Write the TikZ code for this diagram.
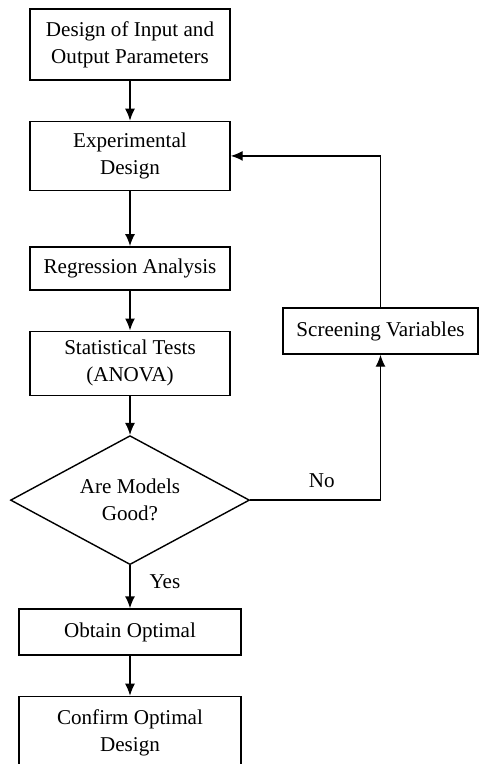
\documentclass[tikz,border=0pt]{standalone}
\usepackage{fontspec}
\setmainfont{Liberation Serif}
\usetikzlibrary{
arrows.meta,
positioning,
shapes.geometric
}
\tikzset{>={Latex[length=2.4mm,width=2mm]}}

\begin{document}
\begin{tikzpicture}[thick, font=\fontsize{12}{15.3}\selectfont,
	block/.style={draw,align=center,minimum width=4cm,inner sep=2pt},
	decision/.style={draw,diamond,aspect=1.85,align=center,minimum width=4.78cm,minimum height=2.58cm,inner sep=0pt}]
	\useasboundingbox (0,0) rectangle (9.58,-15.28);

	% main column
	\node[block,minimum height=1.42cm] (params) at (2.6,-0.89) {Design of Input and\\Output Parameters};
	\node[block,minimum height=1.38cm,below=0.8cm of params] (expdesign) {Experimental\\Design};
	\node[block,minimum height=0.86cm,below=1.1cm of expdesign] (regression) {Regression Analysis};
	\node[block,minimum height=1.28cm,below=0.8cm of regression] (stattests) {Statistical Tests\\(ANOVA)};
	\node[decision,below=0.78cm of stattests] (models) {Are Models\\Good?};
	\node[block,minimum width=4.44cm,minimum height=0.92cm,below=0.86cm of models] (optimal) {Obtain Optimal};
	\node[block,minimum width=4.44cm,minimum height=1.45cm,below=0.8cm of optimal] (confirm) {Confirm Optimal\\Design};

	% feedback branch
	\node[block,minimum width=3.9cm,minimum height=0.92cm] (screening) at (7.61,-6.62) {Screening Variables};

	\draw[->] (params) -- (expdesign);
	\draw[->] (expdesign) -- (regression);
	\draw[->] (regression) -- (stattests);
	\draw[->] (stattests) -- (models);
	\draw[->] (models) -- node[right=0.26cm,pos=0.38] (yeslabel) {Yes} (optimal);
	\draw[->] (optimal) -- (confirm);

	\draw[->] (models.east) -- node[above=0.12cm,pos=0.55] (nolabel) {No} (models.east -| screening.south) -- (screening.south);
	\draw[->] (screening.north) |- (expdesign.east);
\end{tikzpicture}
\end{document}
